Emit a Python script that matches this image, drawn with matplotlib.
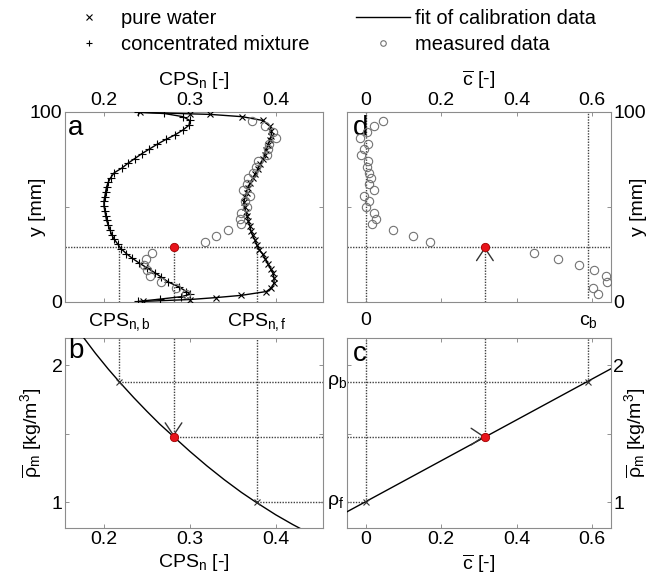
import numpy as np
import matplotlib.pyplot as plt
from matplotlib.lines import Line2D
from matplotlib import transforms

plt.rcParams['font.family'] = ['Liberation Sans', 'DejaVu Sans']
plt.rcParams['mathtext.fontset'] = 'custom'
plt.rcParams['mathtext.rm'] = 'Liberation Sans'
plt.rcParams['mathtext.it'] = 'Liberation Sans'
plt.rcParams['mathtext.bf'] = 'Liberation Sans:bold'
plt.rcParams['font.size'] = 14

# --- panel a: calibration profiles, CPS_n against height y [mm]
y_water = [99.8, 99.0, 98.7, 97.5, 95.5, 92.5, 90.0, 87.5, 85.0, 82.5, 80.0, 77.5,
           75.0, 72.5, 70.0, 67.5, 65.0, 62.5, 60.0, 57.5, 55.0, 52.5, 50.0, 47.5,
           45.0, 42.5, 40.0, 37.5, 35.0, 32.5, 30.0, 27.5, 25.0, 22.5, 20.0, 17.5,
           15.0, 12.5, 10.0, 7.5, 5.5, 3.5, 2.3, 1.3, 0.3]
cps_water = [0.242, 0.300, 0.324, 0.361, 0.385, 0.393, 0.395, 0.395, 0.393, 0.391, 0.389, 0.387,
             0.385, 0.382, 0.379, 0.376, 0.373, 0.370, 0.368, 0.366, 0.364, 0.363, 0.364, 0.365,
             0.367, 0.368, 0.370, 0.371, 0.373, 0.376, 0.378, 0.381, 0.385, 0.388, 0.391, 0.394,
             0.397, 0.398, 0.398, 0.395, 0.389, 0.360, 0.330, 0.300, 0.245]

y_mix = [99.8, 99.2, 97.5, 95.5, 93.0, 90.5, 88.0, 85.5, 83.0, 80.5, 78.0, 75.5,
         73.0, 70.5, 68.0, 65.5, 63.0, 60.5, 58.0, 55.5, 53.0, 50.5, 48.0, 45.5,
         43.0, 40.5, 38.0, 35.5, 33.0, 30.5, 28.0, 25.5, 23.0, 20.5, 18.0, 15.5,
         13.0, 10.5, 8.0, 5.5, 4.0, 2.8, 1.5, 0.3]
cps_mix = [0.240, 0.270, 0.292, 0.300, 0.299, 0.292, 0.283, 0.272, 0.262, 0.253, 0.244, 0.236,
           0.228, 0.221, 0.212, 0.208, 0.205, 0.203, 0.202, 0.201, 0.200, 0.200, 0.201, 0.202,
           0.203, 0.205, 0.207, 0.209, 0.212, 0.216, 0.220, 0.226, 0.233, 0.241, 0.250, 0.259,
           0.267, 0.275, 0.287, 0.296, 0.300, 0.290, 0.265, 0.240]

# measured profile (same heights in a and d)
y_meas = [95.4, 92.4, 89.4, 86.3, 83.3, 80.3, 77.2, 74.2, 71.2, 68.1, 65.1, 62.1,
          59.0, 56.0, 53.0, 49.9, 46.9, 43.9, 40.8, 37.8, 34.8, 31.7,
          25.7, 22.6, 19.6, 16.6, 13.5, 10.5, 7.5, 4.4]
cps_meas = [0.372, 0.388, 0.397, 0.400, 0.392, 0.391, 0.390, 0.379, 0.377, 0.373, 0.368, 0.366,
            0.362, 0.370, 0.364, 0.366, 0.359, 0.358, 0.360, 0.344, 0.330, 0.318,
            0.256, 0.249, 0.247, 0.250, 0.254, 0.266, 0.284, 0.295]
c_meas = [0.045, 0.022, 0.002, -0.015, 0.006, -0.006, -0.012, 0.006, 0.004, 0.009, 0.013, 0.009,
          0.021, -0.006, 0.009, 0.000, 0.021, 0.027, 0.016, 0.072, 0.126, 0.170,
          0.447, 0.511, 0.565, 0.605, 0.637, 0.641, 0.603, 0.617]

# --- panel b: density against CPS_n
cps_fit = [0.175, 0.190, 0.205, 0.218, 0.235, 0.250, 0.265, 0.281, 0.300, 0.320,
           0.340, 0.360, 0.377, 0.400, 0.420, 0.440]
rho_fit = [2.215, 2.090, 1.974, 1.880, 1.763, 1.665, 1.571, 1.480, 1.372, 1.265,
           1.165, 1.072, 1.000, 0.908, 0.836, 0.770]

# --- panel c: density against concentration
c_line = [-0.05, 0.65]
rho_line = [0.93, 1.975]

# reference values and the worked example point
cps_b, cps_f = 0.218, 0.378
rho_b, rho_f = 1.88, 1.00
c_b = 0.59
y_sel, cps_sel, rho_sel, c_sel = 29.0, 0.281, 1.48, 0.316

fig = plt.figure(figsize=(6.66, 5.83), dpi=100)
ax_a = fig.add_axes([0.098, 0.482, 0.387, 0.326])
ax_d = fig.add_axes([0.521, 0.482, 0.396, 0.326])
ax_b = fig.add_axes([0.098, 0.094, 0.387, 0.326])
ax_c = fig.add_axes([0.521, 0.094, 0.396, 0.326])

guide = dict(color='0.25', ls=(0, (1, 1)), lw=1.0, zorder=1)
head = dict(arrowstyle='->,head_length=0.6,head_width=0.4', color='0.2', lw=1.0,
            shrinkA=0, shrinkB=0, mutation_scale=15)
red = dict(marker='o', color='#e8141b', mec='#a00000', ms=6, mew=0.6, zorder=5)


def style(ax):
    for s in ax.spines.values():
        s.set_color('0.55')
        s.set_linewidth(0.8)
    ax.tick_params(direction='in', length=3, width=0.6, color='0.5',
                   top=True, right=True, bottom=True, left=True,
                   labelsize=14, pad=2)


xl_cps = (0.155, 0.455)
xl_c = (-0.05, 0.65)
yl_rho = (0.81, 2.2)

# ---- a
ax = ax_a
style(ax)
ax.plot(cps_water, y_water, '-', color='k', lw=1.0, zorder=3)
ax.plot(cps_water, y_water, 'x', color='k', ms=5, mew=0.8, zorder=3)
ax.plot(cps_mix, y_mix, '-', color='k', lw=1.0, zorder=3)
ax.plot(cps_mix, y_mix, '+', color='k', ms=6, mew=0.8, zorder=3)
ax.plot(cps_meas, y_meas, 'o', mfc='none', mec='0.45', ms=6, mew=0.8, zorder=4)
ax.plot(xl_cps, [y_sel, y_sel], **guide)
for xv in (cps_b, cps_sel, cps_f):
    ax.plot([xv, xv], [0, y_sel], **guide)
ax.plot(cps_sel, y_sel, **red)
ax.set_xlim(xl_cps)
ax.set_ylim(0, 100)
ax.set_xticks([0.2, 0.3, 0.4])
ax.set_yticks([0, 50, 100])
ax.set_yticklabels(['0', '', '100'])
ax.tick_params(labeltop=True, labelbottom=False)
ax.xaxis.set_label_position('top')
ax.set_xlabel(r'CPS$_{\mathrm{n}}$ [-]', labelpad=5)
ax.set_ylabel('y [mm]')
ax.yaxis.set_label_coords(-0.075, 0.5)
tr = transforms.blended_transform_factory(ax.transData, ax.transAxes)
ax.text(cps_b, -0.128, r'CPS$_{\mathrm{n,b}}$', transform=tr, ha='center', va='baseline')
ax.text(cps_f, -0.128, r'CPS$_{\mathrm{n,f}}$', transform=tr, ha='center', va='baseline')
ax.text(0.01, 0.985, 'a', transform=ax.transAxes, ha='left', va='top', fontsize=20)

# ---- d
ax = ax_d
style(ax)
ax.plot(c_meas, y_meas, 'o', mfc='none', mec='0.45', ms=6, mew=0.8, zorder=4)
ax.plot(xl_c, [y_sel, y_sel], **guide)
ax.plot([0, 0], [0, 100], **guide)
ax.plot([c_b, c_b], [2, 100], **guide)
ax.plot([c_sel, c_sel], [0, y_sel], **guide)
ax.annotate('', xy=(c_sel, y_sel), xytext=(c_sel, y_sel - 0.3), arrowprops=head)
ax.plot(c_sel, y_sel, **red)
ax.set_xlim(xl_c)
ax.set_ylim(0, 100)
ax.set_xticks([0, 0.2, 0.4, 0.6])
ax.set_xticklabels(['0', '0.2', '0.4', '0.6'])
ax.set_yticks([0, 50, 100])
ax.set_yticklabels(['0', '', '100'])
ax.tick_params(labeltop=True, labelbottom=False, labelleft=False, labelright=True)
ax.xaxis.set_label_position('top')
ax.set_xlabel(r'$\overline{\mathrm{c}}$ [-]', labelpad=5)
ax.yaxis.set_label_position('right')
ax.set_ylabel('y [mm]')
ax.yaxis.set_label_coords(1.072, 0.5)
tr = transforms.blended_transform_factory(ax.transData, ax.transAxes)
ax.text(0, -0.121, '0', transform=tr, ha='center', va='baseline')
ax.text(c_b, -0.121, r'c$_{\mathrm{b}}$', transform=tr, ha='center', va='baseline')
ax.text(0.022, 0.985, 'd', transform=ax.transAxes, ha='left', va='top', fontsize=20)

# ---- b
ax = ax_b
style(ax)
ax.plot(cps_fit, rho_fit, '-', color='k', lw=1.0, zorder=3)
ax.plot([cps_b, cps_b], [rho_b, yl_rho[1]], **guide)
ax.plot([cps_sel, cps_sel], [rho_sel, yl_rho[1]], **guide)
ax.plot([cps_f, cps_f], [rho_f, yl_rho[1]], **guide)
ax.plot([cps_b, xl_cps[1]], [rho_b, rho_b], **guide)
ax.plot([cps_sel, xl_cps[1]], [rho_sel, rho_sel], **guide)
ax.plot([cps_f, xl_cps[1]], [rho_f, rho_f], **guide)
ax.plot([cps_b, cps_f], [rho_b, rho_f], 'x', color='0.2', ms=4, mew=0.8, zorder=4)
ax.annotate('', xy=(cps_sel, rho_sel), xytext=(cps_sel, rho_sel + 0.005), arrowprops=head)
ax.plot(cps_sel, rho_sel, **red)
ax.set_xlim(xl_cps)
ax.set_ylim(yl_rho)
ax.set_xticks([0.2, 0.3, 0.4])
ax.set_yticks([1, 1.5, 2])
ax.set_yticklabels(['1', '', '2'])
ax.set_xlabel(r'CPS$_{\mathrm{n}}$ [-]', labelpad=3)
ax.set_ylabel(r'$\overline{\rho}_{\mathrm{m}}$ [kg/m$^{3}$]')
ax.yaxis.set_label_coords(-0.08, 0.5)
tr = transforms.blended_transform_factory(ax.transAxes, ax.transData)
ax.text(1.015, rho_b, r'$\rho_{\mathrm{b}}$', transform=tr, ha='left', va='center')
ax.text(1.015, rho_f, r'$\rho_{\mathrm{f}}$', transform=tr, ha='left', va='center')
ax.text(0.01, 1.0, 'b', transform=ax.transAxes, ha='left', va='top', fontsize=20)

# ---- c
ax = ax_c
style(ax)
ax.plot(c_line, rho_line, '-', color='k', lw=1.0, zorder=3)
ax.plot([0, 0], [rho_f, yl_rho[1]], **guide)
ax.plot([c_sel, c_sel], [rho_sel, yl_rho[1]], **guide)
ax.plot([c_b, c_b], [rho_b, yl_rho[1]], **guide)
ax.plot([xl_c[0], c_b], [rho_b, rho_b], **guide)
ax.plot([xl_c[0], c_sel], [rho_sel, rho_sel], **guide)
ax.plot([xl_c[0], 0], [rho_f, rho_f], **guide)
ax.plot([0, c_b], [rho_f, rho_b], 'x', color='0.2', ms=4, mew=0.8, zorder=4)
ax.annotate('', xy=(c_sel, rho_sel), xytext=(c_sel - 0.003, rho_sel), arrowprops=head)
ax.plot(c_sel, rho_sel, **red)
ax.set_xlim(xl_c)
ax.set_ylim(yl_rho)
ax.set_xticks([0, 0.2, 0.4, 0.6])
ax.set_xticklabels(['0', '0.2', '0.4', '0.6'])
ax.set_yticks([1, 1.5, 2])
ax.set_yticklabels(['1', '', '2'])
ax.tick_params(labelleft=False, labelright=True)
ax.set_xlabel(r'$\overline{\mathrm{c}}$ [-]', labelpad=3)
ax.yaxis.set_label_position('right')
ax.set_ylabel(r'$\overline{\rho}_{\mathrm{m}}$ [kg/m$^{3}$]')
ax.yaxis.set_label_coords(1.042, 0.5)
ax.text(0.022, 0.985, 'c', transform=ax.transAxes, ha='left', va='top', fontsize=20)

# legend at the top
handles = [Line2D([], [], ls='none', marker='x', color='k', ms=4, mew=0.8),
           Line2D([], [], ls='none', marker='+', color='k', ms=5, mew=0.8),
           Line2D([], [], ls='-', color='k', lw=1.0),
           Line2D([], [], ls='none', marker='o', mfc='none', mec='0.45', ms=4, mew=0.8)]
labels = ['pure water', 'concentrated mixture', 'fit of calibration data', 'measured data']
fig.legend(handles, labels, ncol=2, loc='upper left', bbox_to_anchor=(0.08, 0.998),
           frameon=False, handlelength=2.7, handletextpad=0.25, labelspacing=0.35,
           columnspacing=2.3, borderaxespad=0, fontsize=14.5)

plt.savefig('out.png', dpi=100)
